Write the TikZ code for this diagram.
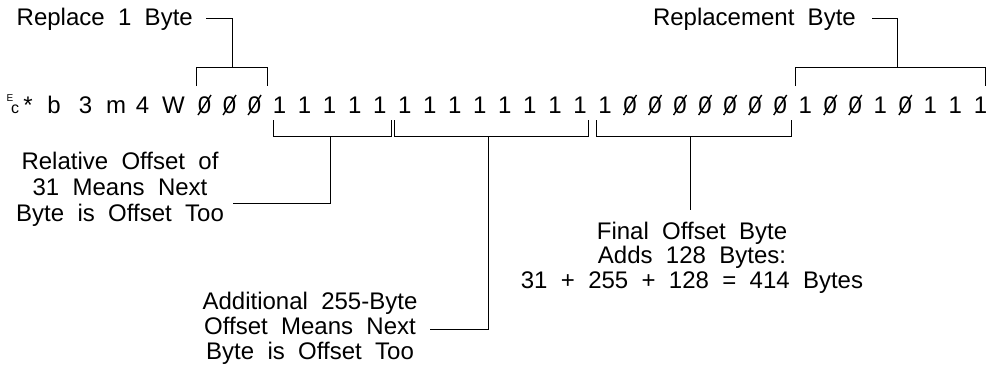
\documentclass[tikz,border=0pt]{standalone}
\usepackage{fontspec}
\setmainfont{Liberation Sans}[WordSpace=2]
\begin{document}
\begin{tikzpicture}[x=1pt,y=-1pt,
  lbl/.style={inner sep=0pt, font=\fontsize{24}{27}\selectfont},
  lbls/.style={inner sep=0pt, anchor=north, align=center, font=\fontsize{24}{26}\selectfont},
  bit/.style={inner sep=0pt, anchor=base, font=\fontsize{24}{27}\selectfont},
  ln/.style={line width=1pt},
  slashln/.style={line width=1.4pt}]
\useasboundingbox (0,0) rectangle (992,365);
% prefix
\node[inner sep=0pt, anchor=base, font=\fontsize{10}{10}\selectfont] (escE) at (10,101.5) {E};
\node[inner sep=0pt, anchor=base, font=\fontsize{16}{16}\selectfont] (escC) at (15,113.5) {c};
\node[bit] (pa) at (28,113) {*};
\node[bit] (pb) at (54,113) {b};
\node[bit] (p3) at (85.5,113) {3};
\node[bit] (pm) at (116,113) {m};
\node[bit] (p4) at (142.5,113) {4};
\node[bit] (pW) at (173.5,113) {W};
% bits
\foreach \v [count=\k from 0] in {0,0,0,1,1,1,1,1,1,1,1,1,1,1,1,1,1,0,0,0,0,0,0,0,1,0,0,1,0,1,1,1}
  \node[bit] (b\k) at ({204.5+25.03*\k},113) {\v};
\foreach \k in {0,1,2,17,18,19,20,21,22,23,25,26,28}
  \draw[slashln] ([shift={(-6.5,2)}]b\k.base) -- ([shift={(6.5,-18)}]b\k.base);
% top labels
\node[lbl, anchor=base east] (L1) at (193,25) {Replace 1 Byte};
\node[lbl, anchor=base east] (L2) at (856,25) {Replacement Byte};
\coordinate (t1) at (232,67);
\coordinate (t2) at (897,67);
\draw[ln] ([xshift=13]L1.east) -| (t1);
\draw[ln] ([xshift=16]L2.east) -| (t2);
\draw[ln] (196,86) -- (196,67) -- (267,67) -- (267,86);
\draw[ln] (795,86) -- (795,67) -- (985,67) -- (985,86);
% lower brackets
\draw[ln] (273,120) -- (273,136) -- (391,136) -- (391,120);
\draw[ln] (394,120) -- (394,136) -- (588,136) -- (588,120);
\draw[ln] (596,120) -- (596,136) -- (791,136) -- (791,120);
\coordinate (sa) at (330,136);
\coordinate (sb) at (488,136);
\coordinate (sc) at (690,136);
% lower labels
\node[lbls] (L3) at (120,151.5) {Relative Offset of\\31 Means Next\\Byte is Offset Too};
\node[lbls, font=\fontsize{24}{25}\selectfont] (L4) at (310,291.5) {Additional 255-Byte\\Offset Means Next\\Byte is Offset Too};
\node[lbls, font=\fontsize{24}{24.5}\selectfont] (L5) at (692,221.5) {Final Offset Byte\\Adds 128 Bytes:\\31 + 255 + 128 = 414 Bytes};
\coordinate (ea) at (233,203);
\coordinate (eb) at (430,329);
\coordinate (ec) at (690,210);
\draw[ln] (sa) |- (ea);
\draw[ln] (sb) |- (eb);
\draw[ln] (sc) -- (ec);
\end{tikzpicture}
\end{document}
